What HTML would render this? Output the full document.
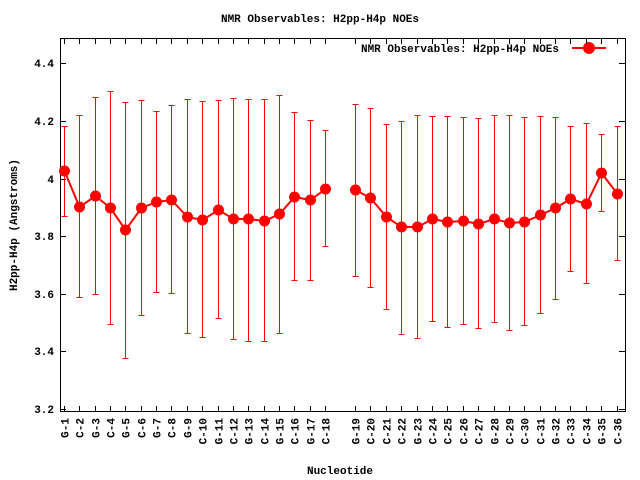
<!DOCTYPE html>
<html><head><style>body{margin:0;background:#fff}svg{display:block}text{font-family:"Liberation Mono",monospace;font-size:11px;font-weight:bold;fill:#000}</style></head><body>
<svg width="640" height="480" xmlns="http://www.w3.org/2000/svg" id="s">
<rect x="60.5" y="38.5" width="565" height="373" fill="none" stroke="#000" stroke-width="1"/>
<text x="320" y="22" text-anchor="middle">NMR Observables: H2pp-H4p NOEs</text>
<text x="340" y="474" text-anchor="middle">Nucleotide</text>
<text transform="translate(17,225) rotate(-90)" text-anchor="middle">H2pp-H4p (Angstroms)</text>
<text x="460" y="52" text-anchor="middle">NMR Observables: H2pp-H4p NOEs</text>
<line x1="572" y1="48" x2="606" y2="48" stroke="#f00" stroke-width="2"/>
<circle cx="589" cy="48" r="6" fill="#f00"/>
<g id="g"></g>
</svg>
<script>
var d=[[171,126,217],[207,115,298],[196,97,295],[208,91,325],[230,102,359],[208,100,316],[202,111,293],[200,105,294],[217,99,334],[220,101,338],[210,100,319],[219,98,340],[219,99,342],[221,99,342],[214,95,334],[197,112,281],[200,120,281],[189,130,247],[190,104,277],[198,108,288],[217,124,310],[227,121,335],[227,115,339],[219,116,322],[222,116,328],[221,117,325],[224,118,329],[219,115,323],[223,115,331],[222,117,326],[215,116,314],[208,117,300],[199,126,272],[204,123,284],[173,134,212],[194,126,261]];
var labs=["G-1","C-2","G-3","C-4","G-5","C-6","G-7","C-8","G-9","C-10","G-11","C-12","G-13","C-14","G-15","C-16","G-17","C-18","G-19","C-20","C-21","C-22","G-23","C-24","C-25","C-26","C-27","G-28","C-29","C-30","C-31","G-32","C-33","C-34","G-35","C-36"];
var h='';
function X(i){return Math.round(i<18?64+i*15.35:355+(i-18)*15.39)+0.5;}
var ys=[[409,"3.2"],[351,"3.4"],[294,"3.6"],[236,"3.8"],[179,"4"],[121,"4.2"],[63,"4.4"]];
ys.forEach(function(t){var y=t[0]+0.5;h+='<line x1="60" y1="'+y+'" x2="66" y2="'+y+'" stroke="#000"/><line x1="619" y1="'+y+'" x2="625" y2="'+y+'" stroke="#000"/><text x="54" y="'+(t[0]+4)+'" text-anchor="end">'+t[1]+'</text>';});
for(var i=0;i<36;i++){var x=X(i);h+='<line x1="'+x+'" y1="412" x2="'+x+'" y2="406" stroke="#000"/><line x1="'+x+'" y1="38" x2="'+x+'" y2="44" stroke="#000"/><text transform="translate('+(x+4)+',418) rotate(-90)" text-anchor="end">'+labs[i]+'</text>';
var e=d[i];h+='<g stroke="#f00"><line x1="'+x+'" y1="'+e[1]+'" x2="'+x+'" y2="'+e[2]+'"/><line x1="'+(x-3)+'" y1="'+(e[1]+.5)+'" x2="'+(x+3)+'" y2="'+(e[1]+.5)+'"/><line x1="'+(x-3)+'" y1="'+(e[2]-.5)+'" x2="'+(x+3)+'" y2="'+(e[2]-.5)+'"/></g>';}
function pl(a,b){var p=[];for(var i=a;i<b;i++)p.push(X(i)+','+d[i][0]);return '<polyline points="'+p.join(' ')+'" fill="none" stroke="#f00" stroke-width="2"/>';}
h+=pl(0,18)+pl(18,36);
for(var i=0;i<36;i++)h+='<circle cx="'+X(i)+'" cy="'+d[i][0]+'" r="5.5" fill="#f00"/>';
document.getElementById('g').innerHTML=h;
</script>
</body></html>
